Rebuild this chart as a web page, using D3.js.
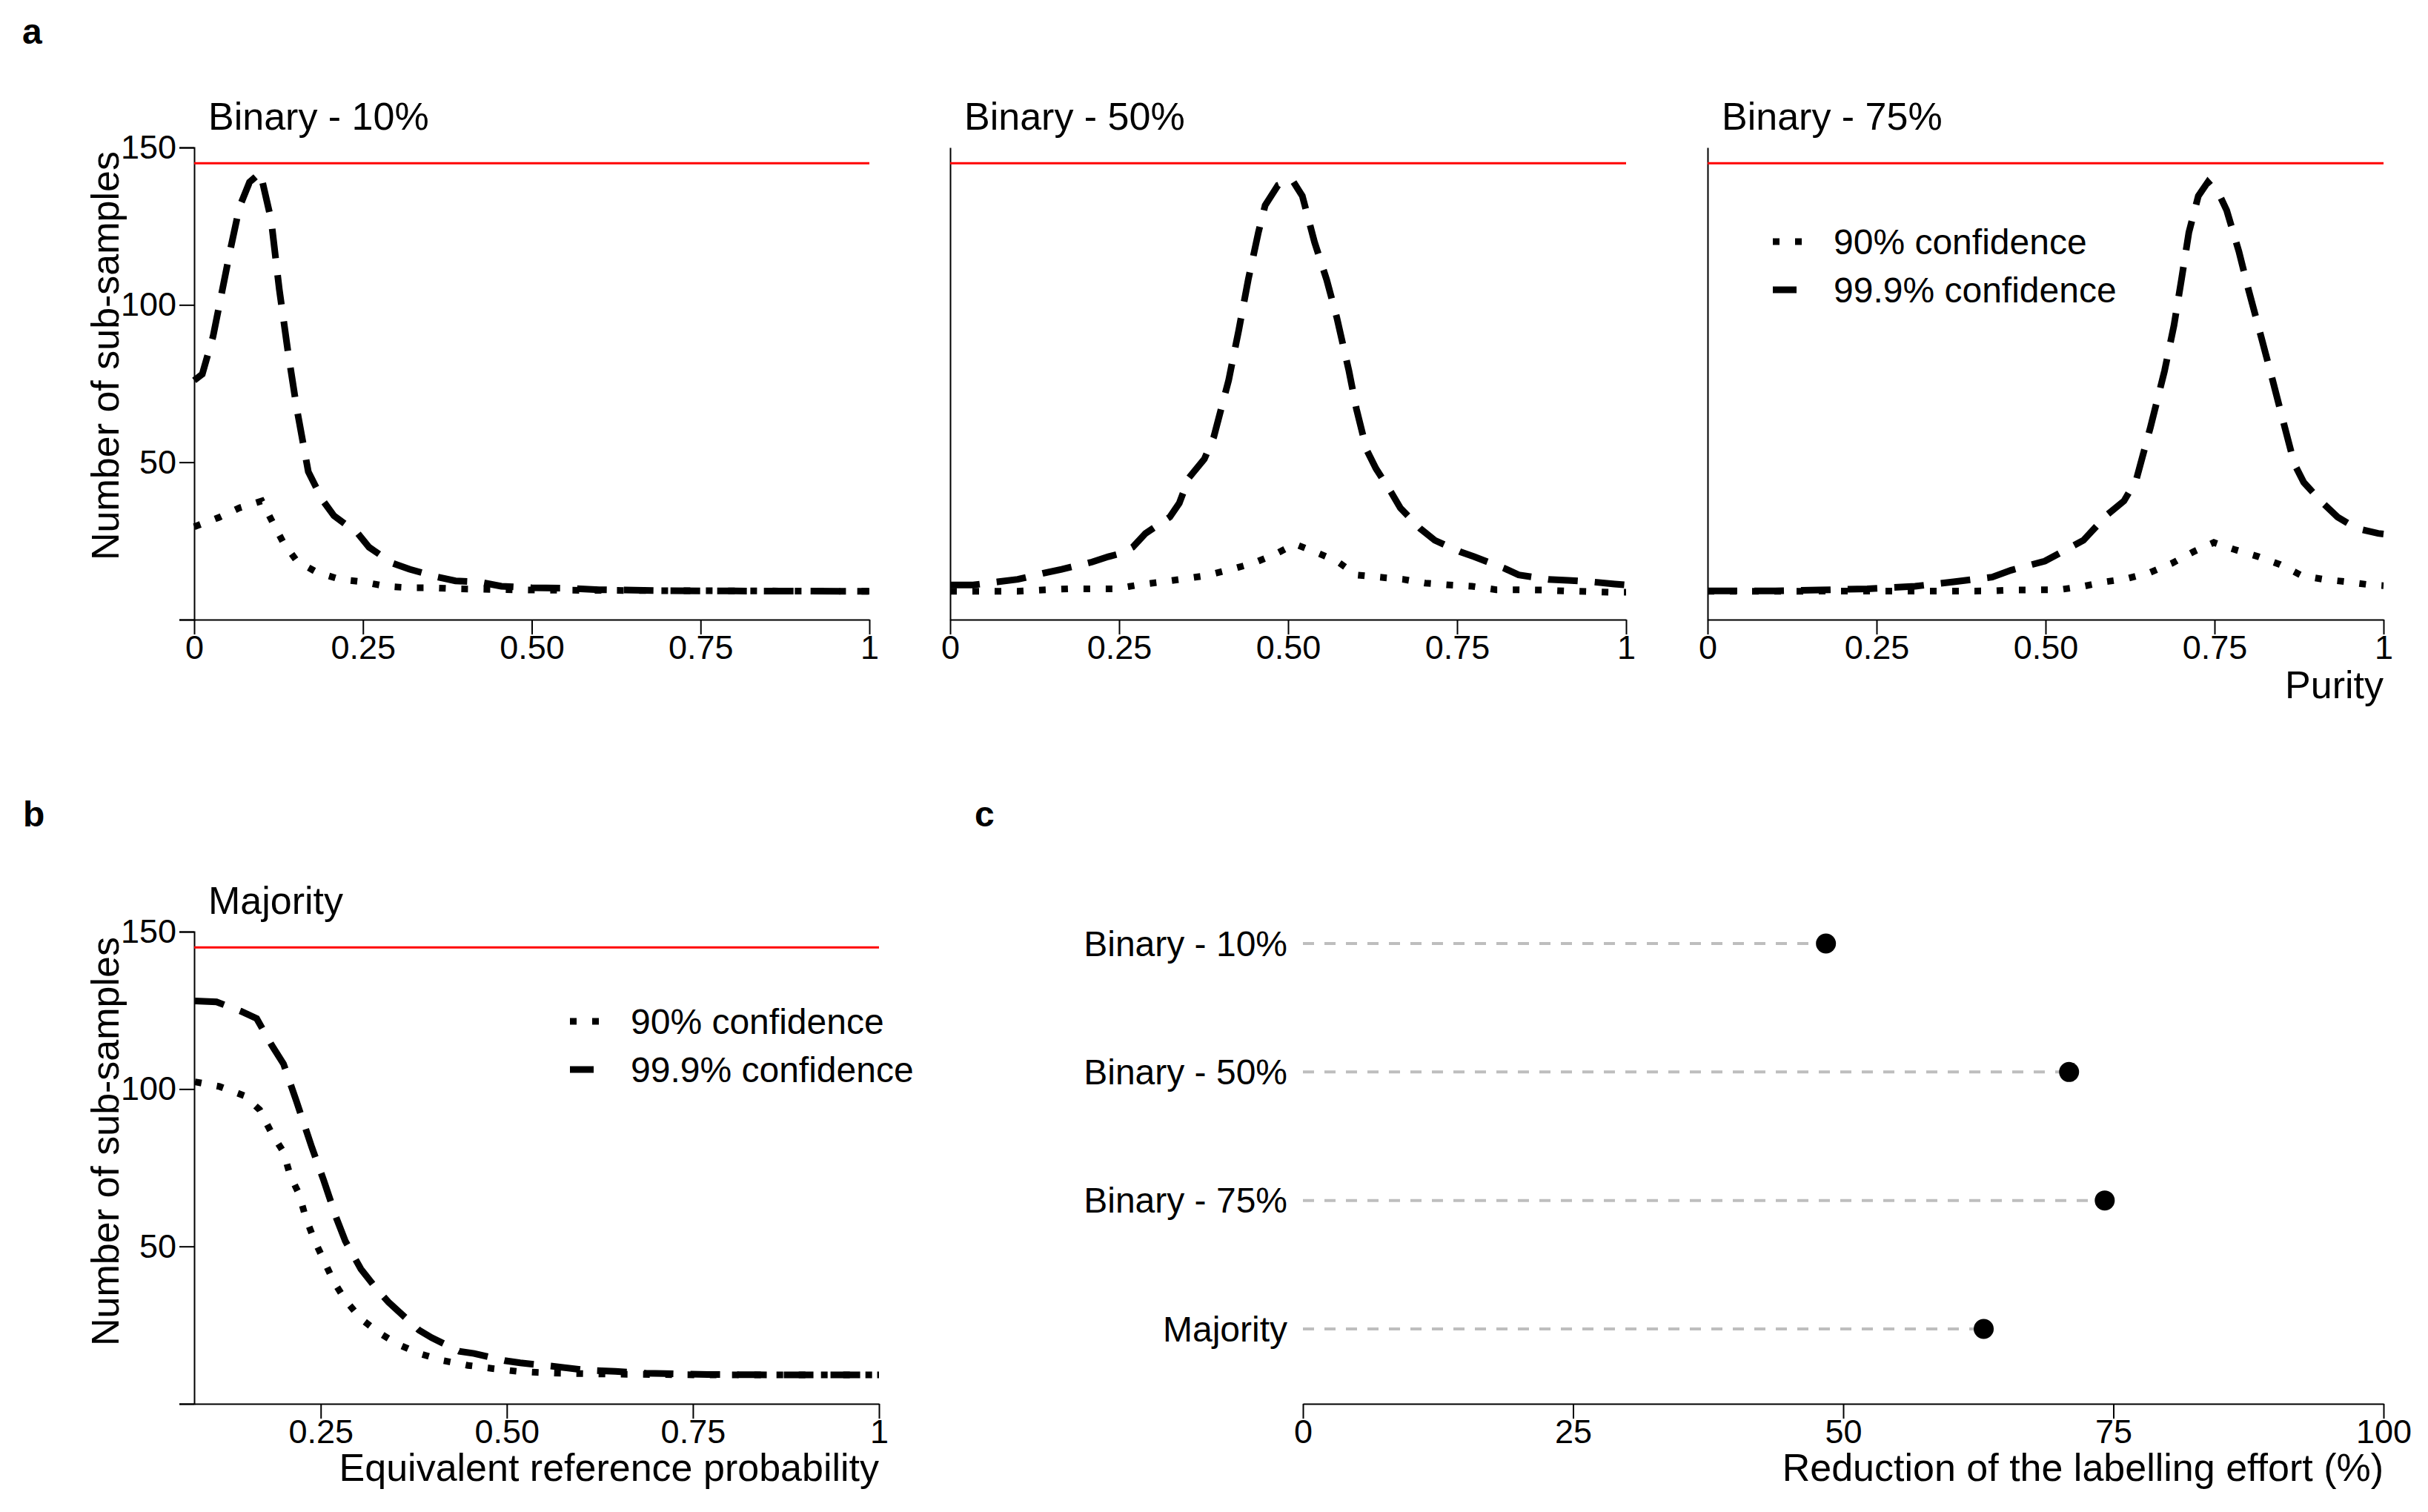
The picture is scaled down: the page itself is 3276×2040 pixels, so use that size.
<!DOCTYPE html>
<html>
<head>
  <meta charset="UTF-8">
  <style>
    body { margin: 0; padding: 0; background: #fff; }
    svg { display: block; }
    text { font-family: "Liberation Sans", Arial, sans-serif; fill: #000; }
  </style>
</head>
<body>
<svg></svg>
<script src="https://d3js.org/d3.v7.min.js"></script>
<script>
  let width = 3276, height = 2040;

  // ---- data ----
  // panel a: [purity, number of sub-samples]
  let bin10_90 = [[0,29.5],[0.037,32.5],[0.067,35.5],[0.1,37.7],[0.116,31],[0.132,24.5],[0.152,18.6],[0.182,15],[0.216,12.8],[0.25,12],[0.284,10.6],[0.319,10.1],[0.353,10.1],[0.387,9.8],[0.5,9.4],[0.7,9.2],[1,9]];
  let bin10_999 = [[0,76],[0.012,78],[0.028,90],[0.041,104],[0.054,118],[0.067,131],[0.082,139],[0.098,142],[0.114,127],[0.126,105],[0.139,85],[0.152,67],[0.169,47],[0.19,38],[0.207,33],[0.242,27.5],[0.259,23],[0.293,18],[0.319,16],[0.361,13.5],[0.387,12.3],[0.421,12],[0.455,10.6],[0.5,10.1],[0.55,10],[0.6,9.5],[0.7,9.2],[0.8,9.1],[1,9]];
  let bin50_90 = [[0,9],[0.1,9],[0.143,9.5],[0.176,9.8],[0.245,9.8],[0.278,11],[0.314,12],[0.347,13],[0.379,14],[0.416,16],[0.448,17.9],[0.481,20.8],[0.51,24],[0.539,21.6],[0.572,18.6],[0.601,14.2],[0.634,13.5],[0.67,12.8],[0.703,11.6],[0.739,11],[0.772,10.6],[0.808,9.5],[0.841,9.5],[0.877,9.4],[0.91,9.1],[0.979,8.7],[1,8.7]];
  let bin50_999 = [[0,11],[0.034,11],[0.07,12],[0.1,12.8],[0.143,15],[0.165,16],[0.21,18.3],[0.234,20],[0.252,21],[0.27,23],[0.289,27.4],[0.325,32.6],[0.339,37],[0.353,45],[0.376,51],[0.39,58],[0.412,76],[0.427,92],[0.441,108],[0.456,123],[0.466,131.6],[0.485,138],[0.506,139.7],[0.521,134.6],[0.539,120],[0.557,108],[0.572,96],[0.59,79],[0.601,67],[0.616,54],[0.63,48],[0.652,40.6],[0.666,35.5],[0.695,29],[0.717,25.2],[0.754,21.6],[0.775,20],[0.819,16.4],[0.841,14.2],[0.885,12.8],[0.914,12.5],[0.95,12],[0.983,11.3],[1,11]];
  let bin75_90 = [[0,9],[0.417,9.1],[0.45,9.4],[0.52,9.5],[0.556,10.6],[0.588,12],[0.62,13],[0.655,15],[0.687,17.9],[0.719,21.6],[0.749,24.5],[0.779,22.3],[0.815,20],[0.847,17.5],[0.879,14],[0.911,12.8],[0.946,12],[0.982,11],[1,10.8]];
  let bin75_999 = [[0,9.1],[0.1,9.1],[0.165,9.4],[0.236,9.8],[0.307,10.6],[0.364,12],[0.421,13.5],[0.449,15.7],[0.499,18.6],[0.556,25.2],[0.591,33.3],[0.616,37.7],[0.634,44.3],[0.655,61],[0.676,79],[0.69,93.5],[0.701,108],[0.712,123],[0.726,134.6],[0.74,139],[0.758,134.6],[0.768,130],[0.786,117],[0.8,105],[0.818,90.6],[0.836,76],[0.854,61],[0.868,49.5],[0.882,43.6],[0.907,37.7],[0.932,32.6],[0.96,29],[0.992,27.4],[1,27.2]];
  // panel b: [equivalent reference probability, number of sub-samples]
  let maj_90 = [[0.081,102.3],[0.114,100.8],[0.147,97.9],[0.168,93.4],[0.184,86],[0.2,80],[0.209,72.5],[0.221,66.6],[0.23,59],[0.242,51.7],[0.254,45.7],[0.267,39],[0.283,33],[0.304,27],[0.328,22.6],[0.353,19],[0.382,16],[0.415,13.7],[0.448,12.2],[0.481,11.2],[0.514,10.3],[0.539,10],[0.572,9.7],[0.65,9.4],[0.75,9.2],[1,9.2]];
  let maj_999 = [[0.081,128],[0.11,127.7],[0.143,124.7],[0.164,122.4],[0.184,114],[0.2,108],[0.217,96.4],[0.238,81.5],[0.254,71],[0.271,59],[0.283,51.7],[0.304,42.8],[0.324,36.8],[0.341,32.3],[0.382,23.4],[0.399,21],[0.436,16.7],[0.456,16],[0.497,13.7],[0.518,13],[0.563,11.9],[0.605,10.7],[0.646,10.3],[0.687,9.7],[0.77,9.3],[0.85,9.2],[1,9.2]];
  let fullSample = 145; // red reference line

  // panel c
  let methods = ["Binary - 10%", "Binary - 50%", "Binary - 75%", "Majority"];
  let reduction = [48.4, 70.9, 74.2, 63.0];

  let yTicks = [0, 50, 100, 150];
  let purityTicks = [0, 0.25, 0.5, 0.75, 1];
  let probTicks = [0.25, 0.5, 0.75, 1];
  let reductionTicks = [0, 25, 50, 75, 100];
  let legendLabels = ["90% confidence", "99.9% confidence"];

  // ---- drawing ----
  let svg = d3.select("svg").attr("width", width).attr("height", height);

  const DASHED = "40 23", DOTTED = "9 21";
  const fmtX = d => d === 0 ? "0" : d === 1 ? "1" : d3.format(".2f")(d);

  function styleAxis(g, size) {
    g.attr("font-family", "Liberation Sans, Arial, sans-serif").attr("font-size", size);
    g.selectAll("path.domain").attr("stroke", "#000").attr("stroke-width", 2);
    g.selectAll(".tick line").attr("stroke", "#000").attr("stroke-width", 2);
    g.selectAll(".tick text").attr("fill", "#000");
  }

  function lineChart(opt) {
    let x = d3.scaleLinear().domain(opt.xDomain).range(opt.xRange);
    let y = d3.scaleLinear().domain([0, 150]).range(opt.yRange);
    let g = svg.append("g");

    // y axis
    let yAxis = d3.axisLeft(y).tickSizeOuter(0);
    if (opt.yLabels) {
      yAxis.tickValues(yTicks).tickSize(20).tickPadding(4).tickFormat(d => d === 0 ? "" : d);
    } else {
      yAxis.tickValues([]);
    }
    styleAxis(g.append("g").attr("transform", `translate(${opt.xRange[0]},0)`).call(yAxis), 45);

    // x axis
    let xAxis = d3.axisBottom(x).tickValues(opt.xTicks).tickSize(20).tickPadding(1)
        .tickSizeOuter(0).tickFormat(fmtX);
    styleAxis(g.append("g").attr("transform", `translate(0,${opt.yRange[0]})`).call(xAxis), 45);

    // reference line
    g.append("line")
        .attr("x1", x(opt.xDomain[0])).attr("x2", x(opt.xDomain[1]))
        .attr("y1", y(fullSample)).attr("y2", y(fullSample))
        .attr("stroke", "#ff0000").attr("stroke-width", 3.2);

    let line = d3.line().x(d => x(d[0])).y(d => y(d[1]));
    g.append("path").datum(opt.dotted).attr("d", line)
        .attr("fill", "none").attr("stroke", "#000").attr("stroke-width", 9)
        .attr("stroke-dasharray", DOTTED);
    g.append("path").datum(opt.dashed).attr("d", line)
        .attr("fill", "none").attr("stroke", "#000").attr("stroke-width", 9)
        .attr("stroke-dasharray", DASHED);

    g.append("text").attr("x", opt.xRange[0] + 19).attr("y", opt.yRange[1] - 24)
        .attr("font-size", 52).text(opt.title);

    if (opt.yTitle) {
      g.append("text").attr("transform", `translate(160,${opt.yTitleY}) rotate(-90)`)
          .attr("text-anchor", "middle").attr("font-size", 52).text("Number of sub-samples");
    }
    if (opt.xTitle) {
      g.append("text").attr("x", opt.xRange[1]).attr("y", opt.yRange[0] + opt.xTitleDy)
          .attr("text-anchor", "end").attr("font-size", 52).text(opt.xTitle);
    }
    if (opt.legend) {
      let [lx, ly] = opt.legend;
      let leg = g.append("g").attr("transform", `translate(${lx},${ly})`);
      leg.append("line").attr("x1", 0).attr("x2", 39).attr("y1", 0).attr("y2", 0)
          .attr("stroke", "#000").attr("stroke-width", 9).attr("stroke-dasharray", DOTTED);
      leg.append("line").attr("x1", 0).attr("x2", 32).attr("y1", 65).attr("y2", 65)
          .attr("stroke", "#000").attr("stroke-width", 9);
      leg.selectAll("text.leg").data(legendLabels).enter().append("text")
          .attr("class", "leg").attr("x", 82).attr("y", (d, i) => i * 65 + 17)
          .attr("font-size", 48).text(d => d);
    }
  }

  // panel a
  let aY = [836, 199];
  lineChart({ xDomain: [0, 1], xRange: [262, 1173], yRange: aY, xTicks: purityTicks,
    yLabels: true, yTitle: true, yTitleY: 480, title: "Binary - 10%", dotted: bin10_90, dashed: bin10_999 });
  lineChart({ xDomain: [0, 1], xRange: [1282, 2194], yRange: aY, xTicks: purityTicks,
    title: "Binary - 50%", dotted: bin50_90, dashed: bin50_999 });
  lineChart({ xDomain: [0, 1], xRange: [2304, 3216], yRange: aY, xTicks: purityTicks,
    title: "Binary - 75%", dotted: bin75_90, dashed: bin75_999,
    xTitle: "Purity", xTitleDy: 106, legend: [2392, 326] });

  // panel b
  lineChart({ xDomain: [0.08, 1], xRange: [262, 1186], yRange: [1894, 1257], xTicks: probTicks,
    yLabels: true, yTitle: true, yTitleY: 1540, title: "Majority", dotted: maj_90, dashed: maj_999,
    xTitle: "Equivalent reference probability", xTitleDy: 104, legend: [769, 1378] });

  // panel c
  let cx = d3.scaleLinear().domain([0, 100]).range([1758, 3216]);
  let cy = d3.scalePoint().domain(methods).range([1273, 1793]);
  let gc = svg.append("g");
  let cAxis = d3.axisBottom(cx).tickValues(reductionTicks).tickSize(20).tickPadding(1).tickSizeOuter(0);
  styleAxis(gc.append("g").attr("transform", "translate(0,1894)").call(cAxis), 45);

  gc.selectAll("line.stem").data(methods).enter().append("line")
      .attr("class", "stem")
      .attr("x1", cx(0)).attr("x2", (d, i) => cx(reduction[i]))
      .attr("y1", d => cy(d)).attr("y2", d => cy(d))
      .attr("stroke", "#bebebe").attr("stroke-width", 4).attr("stroke-dasharray", "15 14");
  gc.selectAll("circle").data(methods).enter().append("circle")
      .attr("cx", (d, i) => cx(reduction[i])).attr("cy", d => cy(d)).attr("r", 13.5)
      .attr("fill", "#000");
  gc.selectAll("text.cat").data(methods).enter().append("text")
      .attr("class", "cat").attr("x", 1737).attr("y", d => cy(d)).attr("dy", "0.35em")
      .attr("text-anchor", "end").attr("font-size", 48).text(d => d);
  gc.append("text").attr("x", 3216).attr("y", 1998).attr("text-anchor", "end")
      .attr("font-size", 52).text("Reduction of the labelling effort (%)");

  // panel letters
  [["a", 30, 59], ["b", 31, 1115], ["c", 1315, 1115]].forEach(p => {
    svg.append("text").attr("x", p[1]).attr("y", p[2]).attr("font-size", 48)
        .attr("font-weight", "bold").text(p[0]);
  });
</script>
</body>
</html>
